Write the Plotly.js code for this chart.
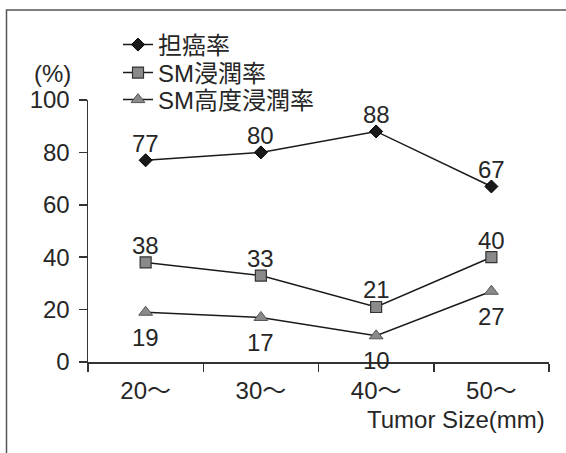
<!DOCTYPE html>
<html>
<head>
<meta charset="utf-8">
<script src="https://cdn.plot.ly/plotly-3.0.1.min.js"></script>
<style>html,body{margin:0;padding:0;background:#fff;}#chart{width:566px;height:453px;}</style>
</head>
<body>
<div id="chart"></div>
<script>
const categories = ["20～", "30～", "40～", "50～"];
const seriesNames = ["担癌率", "SM浸潤率", "SM高度浸潤率"];
const cancerRate = [77, 80, 88, 67];
const smRate = [38, 33, 21, 40];
const smDeepRate = [19, 17, 10, 27];
const yTicks = [0, 20, 40, 60, 80, 100];

const FONT = '"Liberation Sans", Arial, "Noto Sans CJK JP", sans-serif';
const TXT = '#262626';

// plot-area geometry helpers (pixels -> paper)
const L = 88, R = 17, T = 100, B = 91, W = 566, H = 453;
const PW = W - L - R, PH = H - T - B;
const px = v => (v - L) / PW;
const py = v => (H - B - v) / PH;

const traces = [
  {
    x: categories, y: cancerRate, name: seriesNames[0], legend: 'legend',
    mode: 'lines+markers',
    line: {color: '#1a1a1a', width: 1.5},
    marker: {symbol: 'diamond', size: 10, color: '#1a1a1a', line: {color: '#000', width: 1}}
  },
  {
    x: categories, y: smRate, name: seriesNames[1], legend: 'legend2',
    mode: 'lines+markers',
    line: {color: '#1a1a1a', width: 1.5},
    marker: {symbol: 'square', size: 11, color: '#8a8a8a', line: {color: '#333', width: 1.2}}
  },
  {
    x: categories, y: smDeepRate, name: seriesNames[2], legend: 'legend3',
    mode: 'lines+markers',
    line: {color: '#1a1a1a', width: 1.5},
    marker: {symbol: 'triangle-up', size: 12, color: '#8a8a8a', line: {color: '#555', width: 1}}
  }
];

// value labels, built from the data arrays
function labels(values, shift) {
  return values.map((v, i) => ({
    x: categories[i], y: v, xref: 'x', yref: 'y', text: String(v),
    showarrow: false, xanchor: 'center', yanchor: 'middle', yshift: shift,
    font: {family: FONT, size: 24, color: TXT}
  }));
}

const legendBase = {x: px(118), xanchor: 'left', yanchor: 'middle', bgcolor: 'rgba(0,0,0,0)',
  font: {family: FONT, size: 24, color: TXT}};

const layout = {
  width: W, height: H,
  margin: {l: L, r: R, t: T, b: B},
  paper_bgcolor: '#fff', plot_bgcolor: '#fff',
  font: {family: FONT, size: 24, color: TXT},
  showlegend: true,
  legend: Object.assign({}, legendBase, {y: py(45)}),
  legend2: Object.assign({}, legendBase, {y: py(73)}),
  legend3: Object.assign({}, legendBase, {y: py(100)}),
  xaxis: {
    type: 'category', categoryarray: categories, range: [-0.5, 3.5],
    showline: true, linecolor: '#333', linewidth: 1.5,
    ticks: 'outside', tickson: 'boundaries', ticklen: 8, tickcolor: '#333', tickwidth: 1.5,
    ticklabelstandoff: 7,
    showgrid: false, zeroline: false, tickfont: {family: FONT, size: 24, color: TXT}
  },
  yaxis: {
    range: [0, 100], tickvals: yTicks, ticktext: yTicks.map(String),
    showline: true, linecolor: '#333', linewidth: 1.5,
    ticks: 'outside', ticklen: 8, tickcolor: '#333', tickwidth: 1.5,
    ticklabelstandoff: 4,
    showgrid: false, zeroline: false, tickfont: {family: FONT, size: 24, color: TXT}
  },
  annotations: [
    {text: '(%)', xref: 'paper', yref: 'paper', x: px(52), y: py(73),
     xanchor: 'center', yanchor: 'middle', showarrow: false, font: {family: FONT, size: 24, color: TXT}},
    {text: 'Tumor Size(mm)', xref: 'paper', yref: 'paper', x: px(547), y: py(419),
     xanchor: 'right', yanchor: 'middle', showarrow: false, font: {family: FONT, size: 24, color: TXT}}
  ].concat(labels(cancerRate, 17), labels(smRate, 17), labels(smDeepRate, -25)),
  shapes: [
    {type: 'rect', xref: 'paper', yref: 'paper', x0: px(6.5), x1: px(575),
     y0: py(470), y1: py(10), line: {color: '#555', width: 1.5}}
  ]
};

Plotly.newPlot('chart', traces, layout, {displayModeBar: false, staticPlot: true});
</script>
</body>
</html>
